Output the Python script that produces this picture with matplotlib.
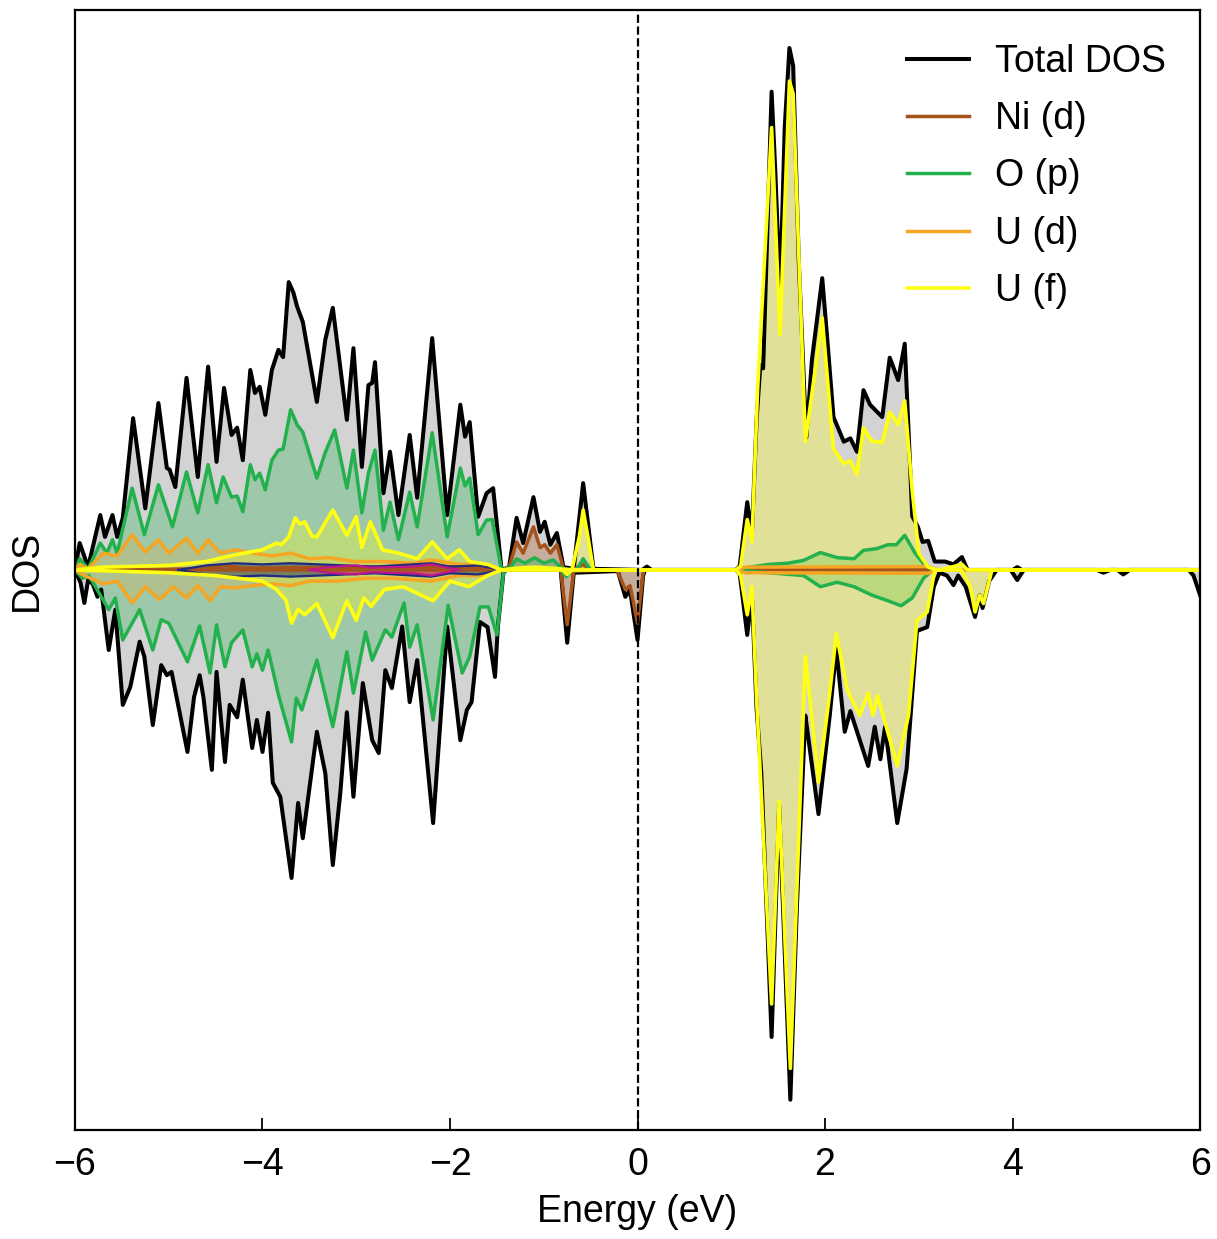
import matplotlib.pyplot as plt
import numpy as np

plt.rcParams['font.family'] = ['Liberation Sans', 'DejaVu Sans']

# (energy eV, DOS) pairs; spin up > 0, spin down < 0
tot_up = [(-6.0, 0.0), (-5.95, 0.48), (-5.86, 0.05), (-5.73, 0.98), (-5.68, 0.59), (-5.60, 0.98),
          (-5.55, 0.59), (-5.49, 0.93), (-5.38, 2.71), (-5.25, 1.10), (-5.11, 2.98), (-5.02, 1.82),
          (-4.99, 1.79), (-4.93, 1.48), (-4.81, 3.43), (-4.69, 1.66), (-4.58, 3.63), (-4.49, 1.93),
          (-4.41, 3.25), (-4.33, 2.41), (-4.27, 2.54), (-4.21, 1.96), (-4.13, 3.57), (-4.08, 3.16),
          (-4.03, 3.27), (-3.97, 2.77), (-3.90, 3.57), (-3.83, 3.93), (-3.78, 3.80), (-3.72, 5.14),
          (-3.67, 4.95), (-3.63, 4.70), (-3.57, 4.43), (-3.42, 3.00), (-3.33, 4.11), (-3.25, 4.68),
          (-3.10, 2.68), (-3.03, 3.96), (-2.94, 1.84), (-2.87, 3.30), (-2.83, 3.34), (-2.80, 3.71),
          (-2.71, 1.37), (-2.64, 2.11), (-2.55, 0.98), (-2.43, 2.41), (-2.35, 1.29), (-2.19, 4.14),
          (-2.03, 0.98), (-1.89, 2.95), (-1.84, 2.38), (-1.79, 2.64), (-1.70, 0.95), (-1.61, 1.37),
          (-1.54, 1.46), (-1.45, 0.0), (-1.37, 0.05), (-1.29, 0.93), (-1.22, 0.48), (-1.11, 1.30),
          (-1.04, 0.68), (-0.99, 0.86), (-0.93, 0.45), (-0.86, 0.66), (-0.79, 0.05), (-0.68, 0.02),
          (-0.58, 1.55), (-0.47, 0.02), (0.05, 0.0), (0.10, 0.06), (0.15, 0.0), (1.05, 0.0),
          (1.09, 0.07), (1.17, 1.21), (1.22, 0.64), (1.27, 2.68), (1.31, 3.66), (1.34, 3.60),
          (1.43, 8.54), (1.47, 7.1), (1.52, 4.95), (1.57, 7.9), (1.62, 9.32), (1.66, 9.0),
          (1.72, 5.5), (1.80, 2.36), (1.86, 3.75), (1.97, 5.21), (2.02, 4.2), (2.09, 2.73),
          (2.20, 2.29), (2.27, 2.35), (2.34, 2.11), (2.41, 3.21), (2.48, 2.95), (2.61, 2.73),
          (2.69, 3.79), (2.78, 3.39), (2.85, 4.04), (2.93, 0.96), (2.99, 0.77), (3.04, 0.5),
          (3.10, 0.52), (3.17, 0.15), (3.28, 0.15), (3.37, 0.1), (3.46, 0.23), (3.52, 0.0),
          (4.0, 0.0), (4.05, 0.05), (4.1, 0.0), (6.0, 0.0)]
tot_dn = [(-6.0, 0.0), (-5.94, -0.23), (-5.90, -0.59), (-5.86, -0.18), (-5.81, -0.25), (-5.76, -0.48),
          (-5.72, -0.35), (-5.64, -1.43), (-5.57, -0.71), (-5.49, -2.41), (-5.41, -2.09), (-5.31, -1.28),
          (-5.26, -1.55), (-5.17, -2.77), (-5.08, -1.70), (-5.02, -1.88), (-4.97, -1.82), (-4.80, -3.25),
          (-4.73, -2.27), (-4.67, -1.88), (-4.63, -2.27), (-4.54, -3.57), (-4.49, -1.82), (-4.40, -3.43),
          (-4.35, -2.41), (-4.27, -2.63), (-4.21, -1.96), (-4.11, -3.18), (-4.06, -2.68), (-4.00, -3.25),
          (-3.94, -2.55), (-3.89, -3.80), (-3.81, -4.05), (-3.69, -5.50), (-3.62, -4.16), (-3.57, -4.79),
          (-3.42, -2.89), (-3.33, -3.63), (-3.25, -5.27), (-3.17, -3.98), (-3.10, -2.54), (-3.03, -4.05),
          (-2.93, -2.02), (-2.83, -3.04), (-2.76, -3.27), (-2.69, -1.79), (-2.62, -2.11), (-2.51, -1.01),
          (-2.43, -2.36), (-2.35, -1.61), (-2.18, -4.52), (-2.03, -1.01), (-1.89, -3.04), (-1.82, -2.50),
          (-1.77, -2.36), (-1.68, -0.93), (-1.60, -1.02), (-1.52, -1.91), (-1.49, -1.02), (-1.43, -0.05),
          (-1.40, 0.0), (-0.82, 0.0), (-0.75, -1.30), (-0.68, -0.05), (-0.21, -0.02), (-0.13, -0.48),
          (-0.08, -0.36), (0.0, -1.25), (0.06, -0.1), (0.08, 0.0), (1.05, 0.0), (1.09, -0.07),
          (1.17, -1.16), (1.22, -0.45), (1.27, -2.48), (1.32, -3.62), (1.43, -8.34), (1.51, -4.20),
          (1.63, -9.46), (1.70, -6.0), (1.79, -2.6), (1.82, -2.98), (1.93, -4.36), (2.05, -2.60),
          (2.12, -1.41), (2.21, -2.89), (2.27, -2.52), (2.46, -3.50), (2.53, -2.80), (2.59, -3.38),
          (2.64, -2.80), (2.77, -4.52), (2.87, -3.55), (2.98, -1.09), (3.09, -1.02), (3.16, -0.30),
          (3.22, -0.05), (3.30, -0.1), (3.37, -0.27), (3.42, -0.1), (3.50, -0.3), (3.60, -0.84),
          (3.65, -0.45), (3.68, -0.68), (3.75, -0.2), (3.83, 0.0), (3.98, 0.0), (4.05, -0.18),
          (4.12, 0.0), (4.90, 0.0), (4.97, -0.05), (5.04, 0.0), (5.12, 0.0), (5.18, -0.08),
          (5.25, 0.0), (5.88, 0.0), (5.93, -0.1), (6.0, -0.45)]

nid_up = [(-6.0, 0.0), (-4.6, 0.02), (-4.4, 0.08), (-4.2, 0.03), (-3.0, 0.05), (-2.2, 0.06),
          (-1.6, 0.05), (-1.45, 0.0), (-1.37, 0.05), (-1.29, 0.5), (-1.22, 0.3), (-1.11, 0.77),
          (-1.04, 0.4), (-0.99, 0.45), (-0.93, 0.3), (-0.86, 0.45), (-0.79, 0.02), (-0.7, 0.0),
          (-0.58, 0.1), (-0.5, 0.0), (1.05, 0.0), (1.5, 0.03), (3.1, 0.03), (3.2, 0.0), (6.0, 0.0)]
nid_dn = [(-6.0, 0.0), (-1.45, 0.0), (-0.82, 0.0), (-0.75, -0.98), (-0.68, -0.02), (-0.22, 0.0),
          (-0.13, -0.35), (-0.08, -0.28), (0.0, -0.95), (0.06, -0.05), (0.08, 0.0), (6.0, 0.0)]

op_up = [(-6.0, 0.0), (-5.95, 0.2), (-5.86, 0.02), (-5.73, 0.48), (-5.66, 0.3), (-5.60, 0.54),
         (-5.55, 0.3), (-5.39, 1.46), (-5.26, 0.63), (-5.11, 1.52), (-4.96, 0.77), (-4.81, 1.75),
         (-4.69, 1.02), (-4.58, 1.88), (-4.49, 1.2), (-4.42, 1.66), (-4.33, 1.3), (-4.27, 1.32),
         (-4.21, 1.04), (-4.13, 1.88), (-4.08, 1.61), (-4.03, 1.73), (-3.97, 1.43), (-3.90, 1.96),
         (-3.83, 2.14), (-3.78, 2.16), (-3.70, 2.86), (-3.63, 2.59), (-3.57, 2.46), (-3.42, 1.64),
         (-3.33, 2.1), (-3.23, 2.50), (-3.10, 1.46), (-3.03, 2.14), (-2.94, 1.02), (-2.87, 1.73),
         (-2.80, 2.14), (-2.71, 0.71), (-2.64, 1.21), (-2.55, 0.54), (-2.43, 1.39), (-2.35, 0.77),
         (-2.19, 2.45), (-2.03, 0.59), (-1.89, 1.82), (-1.84, 1.5), (-1.79, 1.64), (-1.70, 0.63),
         (-1.61, 0.89), (-1.55, 0.9), (-1.45, 0.0), (-1.35, 0.05), (-1.29, 0.2), (-1.2, 0.12),
         (-1.1, 0.22), (-1.0, 0.12), (-0.9, 0.18), (-0.8, 0.02), (-0.65, 0.0), (-0.58, 0.2),
         (-0.5, 0.0), (1.05, 0.0), (1.2, 0.05), (1.41, 0.1), (1.6, 0.12), (1.77, 0.17), (1.95, 0.31),
         (2.13, 0.22), (2.31, 0.2), (2.41, 0.35), (2.55, 0.38), (2.67, 0.45), (2.76, 0.45),
         (2.85, 0.62), (2.96, 0.3), (3.07, 0.07), (3.2, 0.0), (6.0, 0.0)]
op_dn = [(-6.0, 0.0), (-5.92, -0.15), (-5.85, -0.1), (-5.64, -0.71), (-5.57, -0.5), (-5.49, -1.25),
         (-5.31, -0.71), (-5.17, -1.43), (-5.08, -0.89), (-5.00, -0.95), (-4.80, -1.64), (-4.67, -1.0),
         (-4.56, -1.84), (-4.49, -0.98), (-4.40, -1.73), (-4.33, -1.3), (-4.21, -1.07), (-4.11, -1.73),
         (-4.06, -1.5), (-4.00, -1.79), (-3.94, -1.43), (-3.83, -2.23), (-3.69, -3.07), (-3.64, -2.29),
         (-3.58, -2.5), (-3.42, -1.61), (-3.25, -2.80), (-3.10, -1.46), (-3.03, -2.20), (-2.90, -1.11),
         (-2.83, -1.61), (-2.69, -1.07), (-2.62, -1.2), (-2.49, -0.59), (-2.43, -1.38), (-2.35, -0.98),
         (-2.18, -2.68), (-2.02, -0.63), (-1.87, -1.84), (-1.79, -1.55), (-1.68, -0.66), (-1.59, -0.66),
         (-1.50, -1.16), (-1.43, -0.05), (-1.40, 0.0), (-0.82, 0.0), (-0.76, -0.12), (-0.7, 0.0),
         (1.05, 0.0), (1.4, -0.05), (1.77, -0.1), (1.95, -0.3), (2.13, -0.22), (2.31, -0.3),
         (2.5, -0.45), (2.67, -0.55), (2.81, -0.64), (2.93, -0.5), (3.05, -0.15), (3.15, 0.0), (6.0, 0.0)]

ud_up = [(-6.0, 0.0), (-5.95, 0.1), (-5.86, 0.02), (-5.7, 0.3), (-5.55, 0.25), (-5.39, 0.63),
         (-5.25, 0.32), (-5.11, 0.54), (-5.0, 0.3), (-4.81, 0.57), (-4.69, 0.3), (-4.58, 0.54),
         (-4.45, 0.3), (-4.3, 0.36), (-4.1, 0.3), (-3.9, 0.25), (-3.7, 0.3), (-3.5, 0.2), (-3.3, 0.22),
         (-3.0, 0.15), (-2.7, 0.15), (-2.4, 0.12), (-2.2, 0.18), (-1.9, 0.1), (-1.6, 0.1), (-1.45, 0.0),
         (1.05, 0.0), (1.15, 0.05), (3.1, 0.06), (3.2, 0.0), (6.0, 0.0)]
ud_dn = [(-6.0, 0.0), (-5.9, -0.1), (-5.7, -0.25), (-5.55, -0.2), (-5.39, -0.59), (-5.25, -0.3),
         (-5.10, -0.53), (-4.95, -0.3), (-4.81, -0.5), (-4.69, -0.28), (-4.56, -0.55), (-4.45, -0.3),
         (-4.3, -0.32), (-4.1, -0.28), (-3.9, -0.25), (-3.7, -0.28), (-3.5, -0.2), (-3.2, -0.2),
         (-2.9, -0.15), (-2.6, -0.15), (-2.2, -0.2), (-1.9, -0.1), (-1.6, -0.1), (-1.45, 0.0),
         (1.05, 0.0), (1.15, -0.05), (3.1, -0.06), (3.2, 0.0), (6.0, 0.0)]

uf_up = [(-6.0, 0.0), (-5.7, 0.05), (-5.0, 0.08), (-4.6, 0.15), (-4.4, 0.23), (-4.2, 0.3), (-4.0, 0.36),
         (-3.85, 0.48), (-3.80, 0.45), (-3.72, 0.59), (-3.65, 0.93), (-3.60, 0.82), (-3.55, 0.86),
         (-3.47, 0.6), (-3.42, 0.59), (-3.25, 1.07), (-3.10, 0.62), (-3.00, 0.95), (-2.94, 0.4),
         (-2.85, 0.86), (-2.72, 0.36), (-2.55, 0.3), (-2.35, 0.2), (-2.19, 0.5), (-2.03, 0.2),
         (-1.9, 0.36), (-1.79, 0.15), (-1.6, 0.1), (-1.45, 0.0), (-1.3, 0.03), (-1.1, 0.05),
         (-0.9, 0.03), (-0.7, 0.0), (-0.62, 0.6), (-0.58, 1.07), (-0.52, 0.5), (-0.47, 0.0),
         (1.05, 0.0), (1.1, 0.07), (1.17, 0.9), (1.22, 0.5), (1.28, 3.2), (1.43, 7.9), (1.52, 4.2),
         (1.62, 8.73), (1.66, 8.5), (1.79, 2.29), (1.97, 4.5), (2.09, 2.16), (2.2, 1.9), (2.27, 1.95),
         (2.34, 1.71), (2.41, 2.54), (2.5, 2.3), (2.61, 2.28), (2.69, 2.82), (2.78, 2.6), (2.85, 3.02),
         (2.93, 1.41), (3.0, 0.3), (3.1, 0.05), (3.2, 0.0), (3.3, 0.03), (3.46, 0.1), (3.52, 0.0),
         (6.0, 0.0)]
uf_dn = [(-6.0, 0.0), (-5.0, -0.05), (-4.5, -0.1), (-4.0, -0.2), (-3.85, -0.35), (-3.75, -0.54),
         (-3.69, -0.95), (-3.62, -0.7), (-3.55, -0.8), (-3.42, -0.6), (-3.25, -1.21), (-3.10, -0.55),
         (-3.00, -0.9), (-2.92, -0.5), (-2.84, -0.65), (-2.7, -0.35), (-2.5, -0.3), (-2.18, -0.55),
         (-2.0, -0.2), (-1.8, -0.3), (-1.6, -0.1), (-1.45, 0.0), (-0.8, 0.0), (-0.75, -0.08),
         (-0.7, 0.0), (1.05, 0.0), (1.1, -0.1), (1.17, -0.8), (1.22, -0.3), (1.27, -2.3),
         (1.43, -7.75), (1.51, -4.13), (1.63, -8.9), (1.79, -1.54), (1.93, -3.79), (2.05, -2.2),
         (2.12, -1.14), (2.24, -2.16), (2.37, -2.6), (2.46, -2.2), (2.51, -2.6), (2.56, -2.25),
         (2.77, -3.5), (2.89, -2.6), (2.98, -0.9), (3.09, -0.75), (3.17, 0.0), (3.45, 0.0),
         (3.55, -0.3), (3.60, -0.75), (3.65, -0.45), (3.69, -0.6), (3.78, 0.0), (6.0, 0.0)]

# minor projections drawn without a legend entry
navy_up = [(-4.9, 0.0), (-4.6, 0.08), (-4.3, 0.12), (-4.0, 0.1), (-3.7, 0.12),
           (-3.4, 0.1), (-3.1, 0.08), (-2.8, 0.06), (-2.4, 0.1), (-2.2, 0.12), (-2.0, 0.06),
           (-1.7, 0.08), (-1.5, 0.02), (-1.45, 0.0)]
navy_dn = [(-4.9, 0.0), (-4.6, -0.08), (-4.3, -0.12), (-4.0, -0.1), (-3.7, -0.12),
           (-3.4, -0.1), (-3.1, -0.08), (-2.8, -0.06), (-2.4, -0.1), (-2.2, -0.12), (-2.0, -0.06),
           (-1.7, -0.08), (-1.5, -0.02), (-1.45, 0.0)]
mag_up = [(-3.5, 0.0), (-3.3, 0.05), (-3.0, 0.08), (-2.85, 0.04), (-2.4, 0.06),
          (-2.2, 0.1), (-2.0, 0.03), (-1.9, 0.0)]
mag_dn = [(-3.5, 0.0), (-3.3, -0.05), (-3.0, -0.08), (-2.85, -0.04), (-2.4, -0.06),
          (-2.2, -0.1), (-2.0, -0.03), (-1.9, 0.0)]

series = [
    ("Total DOS", tot_up, tot_dn, "black", "#d3d3d3", 1.0, 2.9),
    ("Ni (d)", nid_up, nid_dn, "#a5521b", "#a5521b", 0.3, 2.5),
    ("O (p)", op_up, op_dn, "#22b14c", "#22b14c", 0.3, 2.5),
    ("U (d)", ud_up, ud_dn, "#f5a623", "#f5a623", 0.2, 2.5),
    ("_navy", navy_up, navy_dn, "#1f2a80", "#1f2a80", 0.8, 1.6),
    ("_mag", mag_up, mag_dn, "#c0168a", "#c0168a", 0.8, 1.6),
    ("U (f)", uf_up, uf_dn, "#ffff14", "#ffff14", 0.3, 2.6),
]

fig = plt.figure(figsize=(12.17, 12.39), dpi=100)
ax = fig.add_axes([0.0616, 0.088, 0.9245, 0.904])

for name, up, dn, lc, fc, alpha, lw in series:
    for k, data in enumerate((up, dn)):
        e = np.array([p[0] for p in data])
        d = np.array([p[1] for p in data])
        ax.fill_between(e, d, 0, color=fc, alpha=alpha, lw=0)
        ax.plot(e, d, color=lc, lw=lw, label=name if k == 0 else "_nolegend_")

ax.axvline(0, color="black", ls="--", lw=1.6)

ax.set_xlim(-6, 6)
ax.set_ylim(-10, 10)
ax.set_xticks([-6, -4, -2, 0, 2, 4, 6])
ax.set_yticks([])
ax.tick_params(axis="x", direction="in", length=9, width=1.3, labelsize=27, pad=12)
for s in ax.spines.values():
    s.set_linewidth(1.6)
ax.set_xlabel("Energy (eV)", fontsize=27, labelpad=8)
ax.set_ylabel("DOS", fontsize=27, labelpad=22)

handles, labels = ax.get_legend_handles_labels()
order = ["Total DOS", "Ni (d)", "O (p)", "U (d)", "U (f)"]
hmap = dict(zip(labels, handles))
ax.legend([hmap[n] for n in order], order, loc="upper right", frameon=False, fontsize=27,
          handlelength=1.65, handletextpad=0.7, labelspacing=0.57)

plt.savefig("out.png", dpi=100)
